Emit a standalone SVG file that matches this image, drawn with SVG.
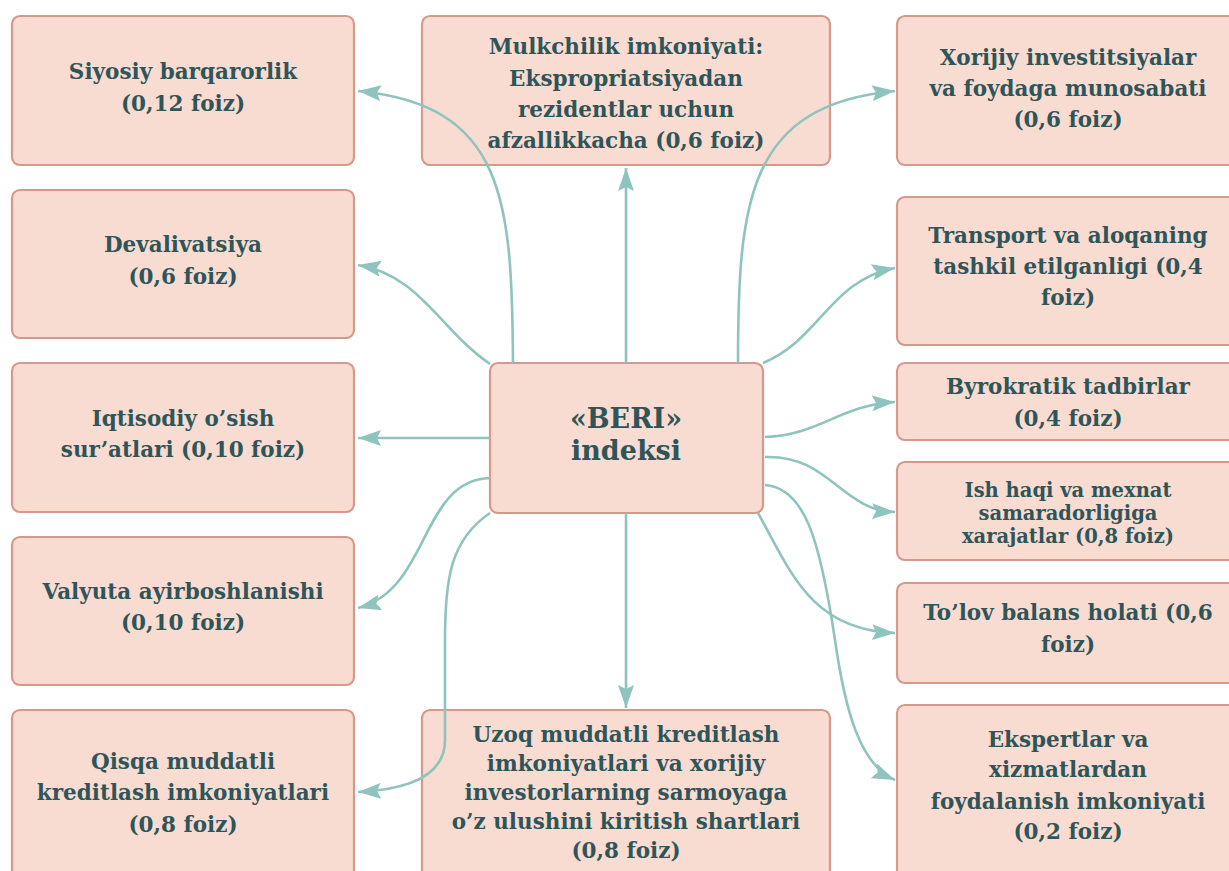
<svg xmlns="http://www.w3.org/2000/svg" width="1229" height="871" viewBox="0 0 1229 871">
<defs>
<style>
.box{fill:#f8dcd1;stroke:#d4998a;stroke-width:2.2}
.t{font-family:"DejaVu Serif","Liberation Serif",serif;font-weight:bold;font-size:21.5px;fill:#2f5559;text-anchor:middle}
.c{font-size:27px}
.n{font-size:19.5px}
.con{fill:none;stroke:#8fc4be;stroke-width:2.6}
</style>
<marker id="arr" markerWidth="24" markerHeight="16" refX="23" refY="8" orient="auto" markerUnits="userSpaceOnUse">
<path d="M0,0 L23,8 L0,16 L4,8 Z" fill="#8fc4be"/>
</marker>
</defs>
<rect width="1229" height="871" fill="#ffffff"/>
<g id="n-siyosiy"><rect class="box" x="12" y="16" width="342" height="149" rx="8"/>
<text class="t" x="183" y="79">Siyosiy barqarorlik</text><text class="t" x="183" y="111">(0,12 foiz)</text></g>
<g id="n-devalivatsiya"><rect class="box" x="12" y="190" width="342" height="148" rx="8"/>
<text class="t" x="183" y="252">Devalivatsiya</text><text class="t" x="183" y="284">(0,6 foiz)</text></g>
<g id="n-iqtisodiy"><rect class="box" x="12" y="363" width="342" height="149" rx="8"/>
<text class="t" x="183" y="426">Iqtisodiy o’sish</text><text class="t" x="183" y="457">sur’atlari (0,10 foiz)</text></g>
<g id="n-valyuta"><rect class="box" x="12" y="537" width="342" height="148" rx="8"/>
<text class="t" x="183" y="599">Valyuta ayirboshlanishi</text><text class="t" x="183" y="630">(0,10 foiz)</text></g>
<g id="n-qisqa"><rect class="box" x="12" y="710" width="342" height="175" rx="8"/>
<text class="t" x="183" y="769">Qisqa muddatli</text><text class="t" x="183" y="800">kreditlash imkoniyatlari</text><text class="t" x="183" y="832">(0,8 foiz)</text></g>
<g id="n-mulkchilik"><rect class="box" x="422" y="16" width="408" height="149" rx="8"/>
<text class="t" x="626" y="54">Mulkchilik imkoniyati:</text><text class="t" x="626" y="86">Ekspropriatsiyadan</text><text class="t" x="626" y="117">rezidentlar uchun</text><text class="t" x="626" y="148">afzallikkacha (0,6 foiz)</text></g>
<g id="n-beri"><rect class="box" x="490" y="363" width="273" height="150" rx="8"/>
<text class="t c" x="626" y="428">«BERI»</text><text class="t c" x="626" y="460">indeksi</text></g>
<g id="n-uzoq"><rect class="box" x="422" y="710" width="408" height="175" rx="8"/>
<text class="t" x="626" y="742">Uzoq muddatli kreditlash</text><text class="t" x="626" y="771">imkoniyatlari va xorijiy</text><text class="t" x="626" y="800">investorlarning sarmoyaga</text><text class="t" x="626" y="829">o’z ulushini kiritish shartlari</text><text class="t" x="626" y="858">(0,8 foiz)</text></g>
<g id="n-xorijiy"><rect class="box" x="897" y="16" width="342" height="149" rx="8"/>
<text class="t" x="1068" y="65">Xorijiy investitsiyalar</text><text class="t" x="1068" y="96">va foydaga munosabati</text><text class="t" x="1068" y="127">(0,6 foiz)</text></g>
<g id="n-transport"><rect class="box" x="897" y="197" width="342" height="148" rx="8"/>
<text class="t" x="1068" y="243">Transport va aloqaning</text><text class="t" x="1068" y="274">tashkil etilganligi (0,4</text><text class="t" x="1068" y="305">foiz)</text></g>
<g id="n-byrokratik"><rect class="box" x="897" y="363" width="342" height="77" rx="8"/>
<text class="t" x="1068" y="394">Byrokratik tadbirlar</text><text class="t" x="1068" y="426">(0,4 foiz)</text></g>
<g id="n-ishhaqi"><rect class="box" x="897" y="462" width="342" height="98" rx="8"/>
<text class="t n" x="1068" y="497">Ish haqi va mexnat</text><text class="t n" x="1068" y="520">samaradorligiga</text><text class="t n" x="1068" y="543">xarajatlar (0,8 foiz)</text></g>
<g id="n-tolov"><rect class="box" x="897" y="583" width="342" height="100" rx="8"/>
<text class="t" x="1068" y="620">To’lov balans holati (0,6</text><text class="t" x="1068" y="652">foiz)</text></g>
<g id="n-ekspertlar"><rect class="box" x="897" y="705" width="342" height="180" rx="8"/>
<text class="t" x="1068" y="747">Ekspertlar va</text><text class="t" x="1068" y="777">xizmatlardan</text><text class="t" x="1068" y="809">foydalanish imkoniyati</text><text class="t" x="1068" y="839">(0,2 foiz)</text></g>
<g id="connectors">
<path class="con" d="M513,363 C 512,200 505,105 358,91" marker-end="url(#arr)"/>
<path class="con" d="M626,363 L626,168" marker-end="url(#arr)"/>
<path class="con" d="M738,363 C 738,200 748,105 895,91" marker-end="url(#arr)"/>
<path class="con" d="M490,364 C 440,330 420,275 358,265" marker-end="url(#arr)"/>
<path class="con" d="M763,363 C 820,340 830,280 895,268" marker-end="url(#arr)"/>
<path class="con" d="M490,438 L358,438" marker-end="url(#arr)"/>
<path class="con" d="M490,478 C 420,480 430,590 358,608" marker-end="url(#arr)"/>
<path class="con" d="M490,513 C 450,540 445,580 445,640 L445,740 C 445,780 400,790 358,792" marker-end="url(#arr)"/>
<path class="con" d="M626,513 L626,708" marker-end="url(#arr)"/>
<path class="con" d="M765,437 C 820,435 840,405 895,402" marker-end="url(#arr)"/>
<path class="con" d="M765,457 C 830,455 840,510 895,512" marker-end="url(#arr)"/>
<path class="con" d="M758,513 C 790,570 810,630 895,633" marker-end="url(#arr)"/>
<path class="con" d="M765,485 C 805,488 820,540 835,640 C 845,710 860,765 895,780" marker-end="url(#arr)"/>
</g>
</svg>
